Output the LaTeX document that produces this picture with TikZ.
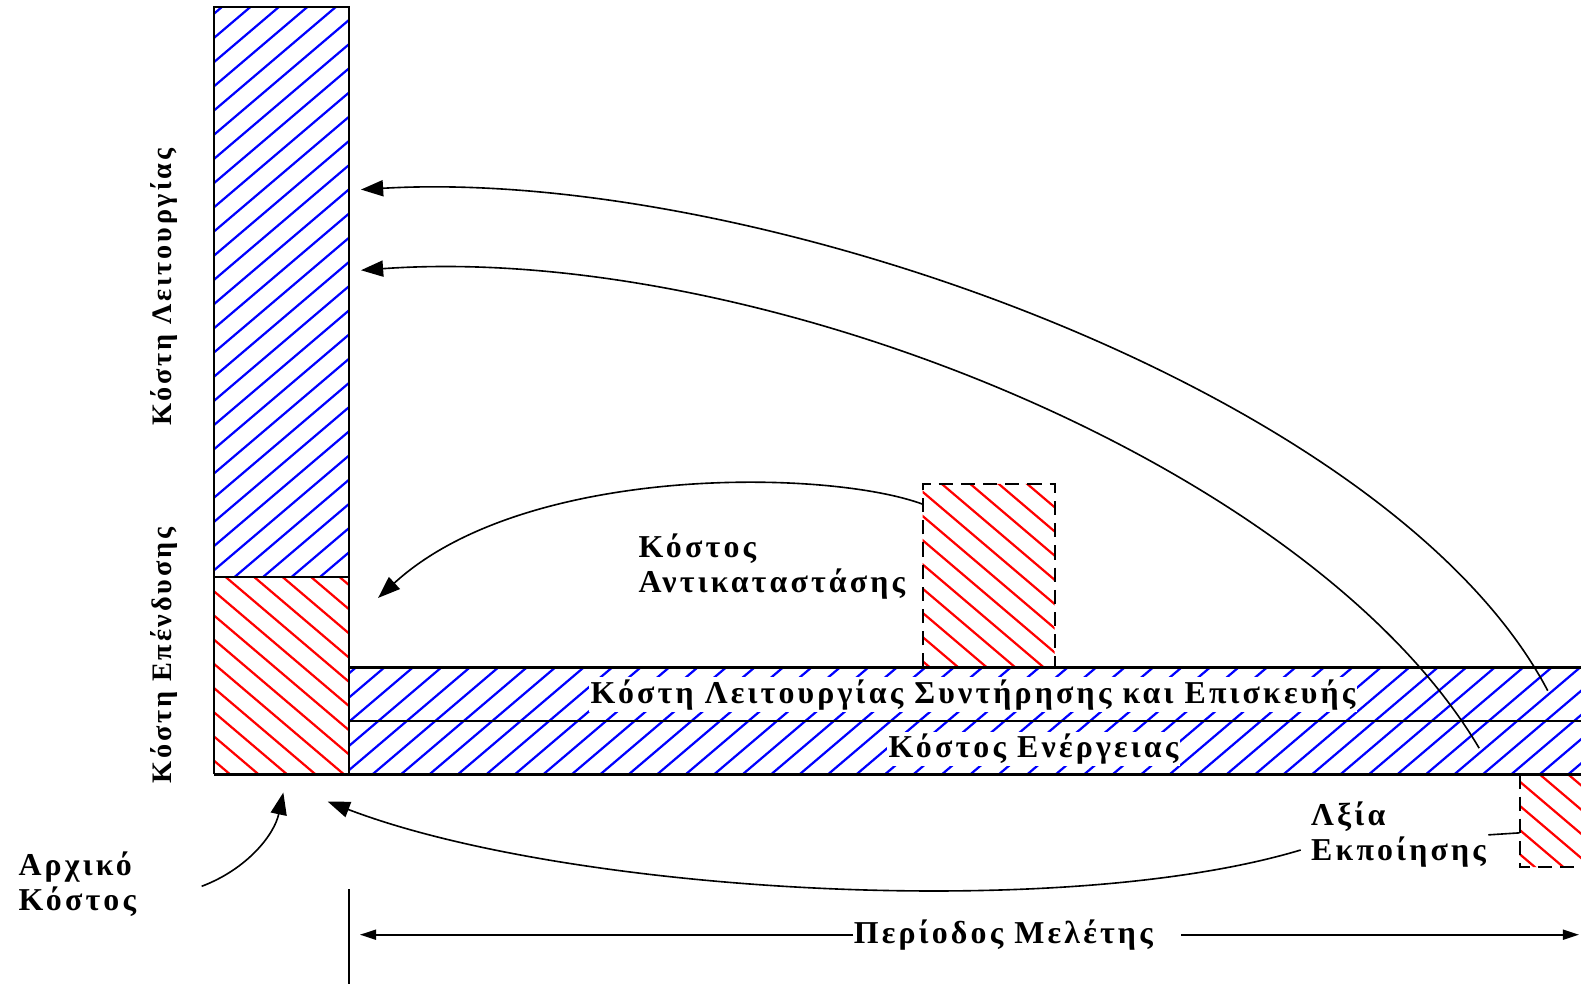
\documentclass[tikz,border=0pt]{standalone}
\usepackage{fontspec}
\newfontfamily\grfont[LetterSpace=10]{Liberation Serif}
\usetikzlibrary{arrows.meta}

\begin{document}
\begin{tikzpicture}[x=0.5pt,y=-0.5pt,
    box/.style={line width=1pt},
    blueh/.style={blue, line width=1.1pt},
    redh/.style={red, line width=1.1pt},
    lbl/.style={font=\grfont\bfseries\fontsize{15.8}{17.5}\selectfont, inner sep=1pt},
    sidelbl/.style={font=\grfont\bfseries\fontsize{14}{16}\selectfont, inner sep=1pt, rotate=90},
    barlbl/.style={lbl, fill=white},
    curve/.style={line width=0.8pt, -{Triangle[length=11pt,width=8pt]}},
    dim/.style={line width=0.8pt, -{Triangle[length=8pt,width=5pt]}}]
  \useasboundingbox (0,0) rectangle (1568,976);

  % blue hatch: operating costs
  \begin{scope}
    \clip (212,7) rectangle (346,572) (346,662) rectangle (1568,768);
    \foreach \c in {0,24,...,2000}
      \draw[blueh] (200,\c) -- (1600,\c-1190);
  \end{scope}
  % red hatch: investment costs
  \begin{scope}
    \clip (212,572) rectangle (346,768) (915,480) rectangle (1046,662)
          (1507,768) rectangle (1568,860);
    \foreach \c in {-720,-696,...,880}
      \draw[redh] (200,\c) -- (1600,\c+1190);
  \end{scope}

  % outlines
  \draw[box] (212,768) -- (212,7) -- (346,7) -- (346,768);
  \draw[box] (212,572) -- (346,572);
  \draw[box] (346,662) -- (1568,662);
  \draw[box] (346,715) -- (1568,715);
  \draw[line width=1.6pt] (212,768) -- (1568,768);
  \draw[box, dash pattern=on 7pt off 4pt] (915,662) -- (915,480) -- (1046,480) -- (1046,662);
  \draw[box, dash pattern=on 7pt off 4pt] (1507,768) -- (1507,860) -- (1568,860);
  \draw[box] (346,882) -- (346,976);

  % labels
  \node[barlbl] (msr) at (965,689) {Κόστη Λειτουργίας Συντήρησης και Επισκευής};
  \node[barlbl] (energy) at (1025,743) {Κόστος Ενέργειας};
  \node[sidelbl] (oper) at (163,285) {Κόστη Λειτουργίας};
  \node[sidelbl] (invest) at (163,650) {Κόστη Επένδυσης};
  \node[lbl, align=left, anchor=west] (repl) at (631,562) {Κόστος\\Αντικαταστάσης};
  \node[lbl, align=left, anchor=west] (init) at (16,877) {Αρχικό\\Κόστος};
  \node[lbl, align=left, anchor=west] (resid) at (1298,828) {Λξία\\Εκποίησης};
  \node[barlbl, inner xsep=0pt] (period) at (995,927) {Περίοδος Μελέτης};

  % arrow ends
  \coordinate (s1) at (1535,685);
  \coordinate (s2) at (1467,742);
  \coordinate (o1) at (358,188);
  \coordinate (o2) at (358,268);
  \coordinate (rs) at (915,500);
  \coordinate (invtip) at (375,593);
  \coordinate (rv) at (1290,843);
  \coordinate (basetip) at (325,795);
  \coordinate (is) at (200,879);
  \coordinate (inittip) at (281,786);
  \coordinate (pleft) at (357,927);
  \coordinate (pright) at (1566,927);
  \coordinate (rbox) at (1507,826);

  % connectors
  \draw[curve] (s1) .. controls (1380,390) and (750,165) .. (o1);
  \draw[curve] (s2) .. controls (1300,460) and (750,240) .. (o2);
  \draw[curve] (rs) .. controls (820,465) and (520,460) .. (invtip);
  \draw[curve] (rv) .. controls (1050,915) and (560,885) .. (basetip);
  \draw[curve] (is) .. controls (245,862) and (272,828) .. (inittip);
  \draw[dim] (period.west) -- (pleft);
  \draw[dim] ([xshift=14pt]period.east) -- (pright);
  \draw[line width=0.8pt] (resid.east) -- (rbox);
\end{tikzpicture}
\end{document}
